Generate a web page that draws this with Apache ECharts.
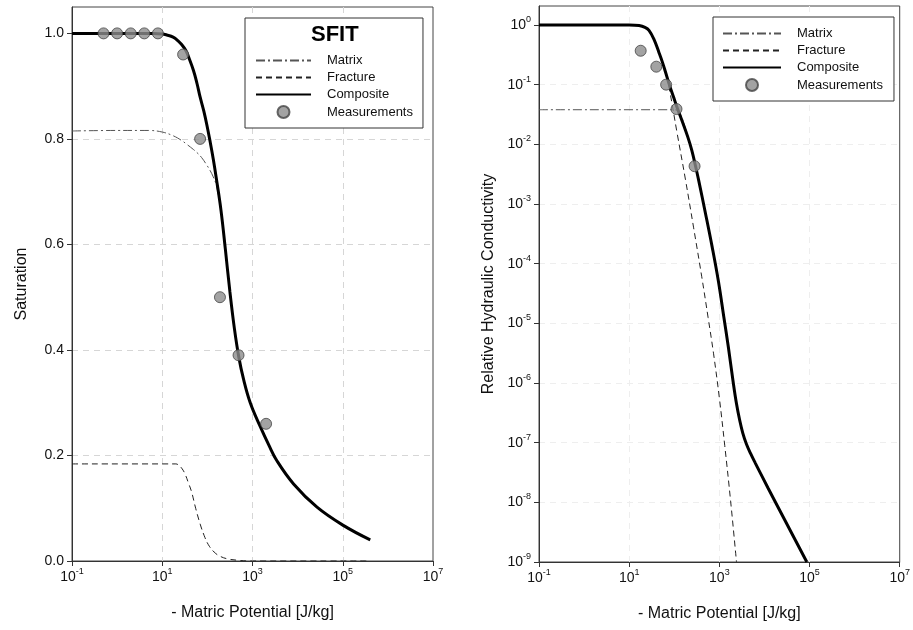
<!DOCTYPE html>
<html>
<head>
<meta charset="utf-8">
<script src="https://cdn.jsdelivr.net/npm/echarts@6/dist/echarts.min.js"></script>
<style>
html, body { margin: 0; padding: 0; background: #fff; }
#main { width: 913px; height: 630px; }
</style>
</head>
<body>
<div id="main"></div>
<script>
// tick positions
const potTicks = [0.1, 10, 1000, 100000, 10000000];
const satTicks = [0, 0.2, 0.4, 0.6, 0.8, 1.0];
const condTicks = [1e-9, 1e-8, 1e-7, 1e-6, 1e-5, 1e-4, 1e-3, 1e-2, 1e-1, 1];

// left panel - saturation  [potential, S]
const satMatrix = [[0.1, 0.815], [1, 0.816], [5, 0.816], [10, 0.813], [17.4, 0.806], [26.9, 0.797], [34.7, 0.79], [49, 0.78], [58.9, 0.774], [74, 0.765], [97.7, 0.75], [115, 0.74], [135, 0.728], [158, 0.712], [200, 0.662], [251, 0.588], [316, 0.508], [398, 0.44], [501, 0.385], [631, 0.345], [891, 0.3], [1480, 0.255], [2290, 0.22], [3470, 0.19], [8130, 0.146], [26900, 0.102], [105000, 0.067], [407000, 0.04]];
const satFracture = [[0.1, 0.184], [20, 0.184], [22.9, 0.182], [26.9, 0.176], [31.6, 0.166], [38, 0.148], [44.7, 0.131], [55, 0.1], [69.2, 0.07], [85.1, 0.048], [105, 0.031], [141, 0.017], [191, 0.009], [282, 0.004], [501, 0.0012], [891, 0], [347000, 0]];
const satComposite = [[0.1, 1], [6.3, 1], [10, 0.999], [12.6, 0.997], [17.4, 0.993], [22.4, 0.986], [26.9, 0.979], [33.1, 0.968], [38, 0.956], [49, 0.93], [58.9, 0.905], [69.2, 0.879], [83.2, 0.853], [97.7, 0.826], [115, 0.795], [135, 0.762], [158, 0.725], [200, 0.665], [251, 0.59], [316, 0.51], [398, 0.44], [501, 0.385], [631, 0.345], [891, 0.3], [1480, 0.255], [2290, 0.22], [3470, 0.19], [8130, 0.146], [26900, 0.102], [105000, 0.067], [407000, 0.04]];
const satMeasured = [[0.5, 1], [1, 1], [2, 1], [4, 1], [8, 1], [29, 0.96], [69, 0.8], [190, 0.5], [490, 0.39], [2000, 0.26]];

// right panel - relative hydraulic conductivity  [potential, K]
const condMatrix = [[0.1, 0.038], [100, 0.038], [115, 0.037], [130, 0.034], [148, 0.028], [175, 0.019], [200, 0.0135], [245, 7.94e-3], [295, 4.37e-3], [347, 2.51e-3], [490, 7.08e-4], [692, 1.91e-4], [955, 5.01e-5], [1259, 1.26e-5], [1585, 3.98e-6], [1995, 1.12e-6], [2400, 4.47e-7], [2820, 2.4e-7], [3310, 1.45e-7], [3980, 9.5e-8], [5010, 6.4e-8], [6310, 4.5e-8], [12000, 1.74e-8], [27500, 5.25e-9], [87100, 1e-9]];
const condFracture = [[0.1, 1], [10, 1], [16.6, 0.977], [22.4, 0.912], [27.5, 0.813], [35.5, 0.575], [45.7, 0.347], [55, 0.232], [64.6, 0.152], [75.9, 0.0933], [115, 0.0158], [178, 2.51e-3], [269, 3.98e-4], [407, 6.03e-5], [562, 1.26e-5], [741, 3.16e-6], [1000, 5.62e-7], [1318, 8.9e-8], [1778, 1.05e-8], [2400, 1e-9]];
const condComposite = [[0.1, 1], [10, 1], [16.6, 0.977], [22.4, 0.912], [27.5, 0.813], [35.5, 0.575], [45.7, 0.347], [55, 0.234], [64.6, 0.158], [79.4, 0.0955], [97.7, 0.0603], [115, 0.0417], [148, 0.0251], [200, 0.0132], [245, 7.94e-3], [295, 4.37e-3], [347, 2.51e-3], [490, 7.08e-4], [692, 1.91e-4], [955, 5.01e-5], [1259, 1.26e-5], [1585, 3.98e-6], [1995, 1.12e-6], [2400, 4.47e-7], [2820, 2.4e-7], [3310, 1.45e-7], [3980, 9.5e-8], [5010, 6.4e-8], [6310, 4.5e-8], [12000, 1.74e-8], [27500, 5.25e-9], [87100, 1e-9]];
const condMeasured = [[18, 0.37], [40, 0.2], [66, 0.1], [112, 0.039], [282, 0.0043]];

const FONT = 'Liberation Sans, Arial, sans-serif';

// 10^n labels
function supLabel (v) {
  const p = Math.round(Math.log10(v));
  return '{b|10}{s|' + p + '}';
}
const supRich = {
  b: { fontSize: 14, lineHeight: 20, color: '#111', fontFamily: FONT },
  s: { fontSize: 9, lineHeight: 10, verticalAlign: 'top', color: '#111', fontFamily: FONT }
};

function potAxis (idx) {
  return {
    type: 'log',
    gridIndex: idx,
    min: 0.1,
    max: 1e7,
    name: '- Matric Potential [J/kg]',
    nameLocation: 'middle',
    nameGap: 44,
    nameTextStyle: { fontSize: 16, color: '#111', fontFamily: FONT },
    axisLine: { show: true, onZero: false, lineStyle: { color: '#333', width: 1 } },
    axisTick: { show: true, length: 5, customValues: potTicks, lineStyle: { color: '#333' } },
    axisLabel: { customValues: potTicks, formatter: supLabel, rich: supRich, margin: 6 },
    splitLine: {
      show: true,
      showMinLine: false,
      showMaxLine: false,
      lineStyle: { type: [6, 5], color: idx === 0 ? '#d6d6d6' : '#eeeeee' }
    }
  };
}

const lineMatrix = { color: '#555', width: 1, type: [9, 3, 2, 3] };
const lineFracture = { color: '#222', width: 1, type: [6, 4] };
const lineComposite = { color: '#000', width: 3 };
const dotStyle = { color: '#8c8c8c', borderColor: '#444', borderWidth: 1 };

// legend: no marker on the line icons
const legendItems = [
  { name: 'Matrix', itemStyle: { opacity: 0 } },
  { name: 'Fracture', itemStyle: { opacity: 0 } },
  { name: 'Composite', itemStyle: { opacity: 0 } },
  { name: 'Measurements' }
];

function legendBox (left, top, pad, iconW) {
  return {
    left: left,
    top: top,
    orient: 'vertical',
    padding: pad,
    itemWidth: iconW,
    itemHeight: 12,
    itemGap: 4,
    backgroundColor: '#fff',
    borderColor: '#333',
    borderWidth: 1,
    borderRadius: 0,
    selectedMode: false,
    textStyle: { fontSize: 13, color: '#111', fontFamily: FONT, padding: [0, 0, 0, 11] },
    data: legendItems
  };
}

const myChart = echarts.init(document.getElementById('main'));
const option = {
  animation: false,
  backgroundColor: '#fff',
  textStyle: { fontFamily: FONT },
  title: {
    text: 'SFIT',
    left: 311,
    top: 24,
    padding: 0,
    textStyle: { fontSize: 22, fontWeight: 'bold', color: '#000', fontFamily: FONT }
  },
  legend: [
    legendBox(245, 18, [36, 10, 9, 10], 55),
    legendBox(713, 17, [10, 11, 9, 9], 58)
  ],
  grid: [
    { left: 72, top: 7, width: 361, height: 554, show: true, borderColor: '#444', borderWidth: 1 },
    { left: 539, top: 6, width: 363, height: 556, show: true, borderColor: '#444', borderWidth: 1 }
  ],
  xAxis: [potAxis(0), potAxis(1)],
  yAxis: [
    {
      type: 'value',
      gridIndex: 0,
      min: 0,
      max: 1.05,
      name: 'Saturation',
      nameLocation: 'middle',
      nameGap: 42,
      nameTextStyle: { fontSize: 16, color: '#111', fontFamily: FONT },
      axisLine: { show: true, lineStyle: { color: '#333' } },
      axisTick: { show: true, length: 5, customValues: satTicks },
      axisLabel: { customValues: satTicks, fontSize: 14, color: '#111', formatter: v => v.toFixed(1) },
      splitLine: { show: true, showMinLine: false, showMaxLine: false, lineStyle: { type: [6, 5], color: '#d6d6d6' } }
    },
    {
      type: 'log',
      gridIndex: 1,
      min: 1e-9,
      max: 2.08,
      name: 'Relative Hydraulic Conductivity',
      nameLocation: 'middle',
      nameGap: 42,
      nameTextStyle: { fontSize: 16, color: '#111', fontFamily: FONT },
      axisLine: { show: true, lineStyle: { color: '#333' } },
      axisTick: { show: true, length: 5, customValues: condTicks },
      axisLabel: { customValues: condTicks, formatter: supLabel, rich: supRich },
      splitLine: { show: true, showMinLine: false, showMaxLine: false, lineStyle: { type: [6, 5], color: '#eeeeee' } }
    }
  ],
  series: [
    { name: 'Matrix', type: 'line', xAxisIndex: 0, yAxisIndex: 0, data: satMatrix, symbol: 'none', smooth: 0.4, lineStyle: lineMatrix, itemStyle: { color: '#555' } },
    { name: 'Fracture', type: 'line', xAxisIndex: 0, yAxisIndex: 0, data: satFracture, symbol: 'none', smooth: 0.4, lineStyle: lineFracture, itemStyle: { color: '#222' } },
    { name: 'Composite', type: 'line', xAxisIndex: 0, yAxisIndex: 0, data: satComposite, symbol: 'none', smooth: 0.4, lineStyle: lineComposite, itemStyle: { color: '#000' } },
    { name: 'Measurements', type: 'scatter', xAxisIndex: 0, yAxisIndex: 0, data: satMeasured, symbol: 'circle', symbolSize: 11, itemStyle: dotStyle, z: 5 },

    { name: 'Matrix', type: 'line', xAxisIndex: 1, yAxisIndex: 1, data: condMatrix, symbol: 'none', smooth: 0.4, lineStyle: lineMatrix, itemStyle: { color: '#555' } },
    { name: 'Fracture', type: 'line', xAxisIndex: 1, yAxisIndex: 1, data: condFracture, symbol: 'none', smooth: 0.4, lineStyle: lineFracture, itemStyle: { color: '#222' } },
    { name: 'Composite', type: 'line', xAxisIndex: 1, yAxisIndex: 1, data: condComposite, symbol: 'none', smooth: 0.4, lineStyle: lineComposite, itemStyle: { color: '#000' } },
    { name: 'Measurements', type: 'scatter', xAxisIndex: 1, yAxisIndex: 1, data: condMeasured, symbol: 'circle', symbolSize: 11, itemStyle: dotStyle, z: 5 }
  ]
};
myChart.setOption(option);
</script>
</body>
</html>
